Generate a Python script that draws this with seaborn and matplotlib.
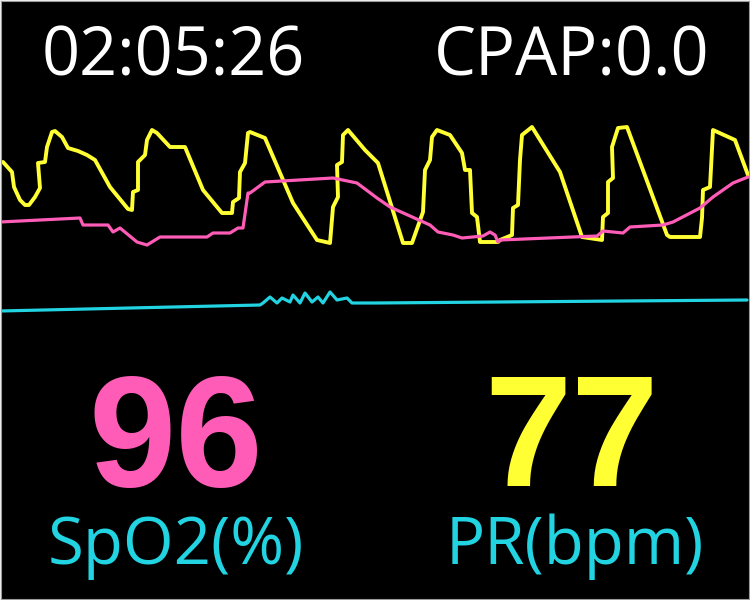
import matplotlib
matplotlib.use("Agg")
import matplotlib.pyplot as plt
import seaborn as sns
import pandas as pd

# ---- data (trace samples) ----
pleth_x = [3, 12, 14, 20, 25, 29, 35, 40, 38, 45, 47, 52, 55, 62, 68, 78, 87, 95, 110, 128, 132, 133, 138, 138,
           145, 147, 152, 157, 170, 185, 203, 222, 232, 233, 239, 240, 245, 248,
           250, 265, 293, 317, 330, 333, 338, 337, 342, 343, 348, 365, 378, 403, 412, 423, 425, 430, 432, 437,
           450, 462, 465, 470, 472, 477, 480, 498,
           500, 512, 513, 518, 520, 522, 532, 560, 582, 602, 603, 608, 608, 613, 612, 618, 627, 667, 670, 700,
           702, 703, 710, 713, 735, 748]
pleth_y = [162, 172, 187, 200, 205, 205, 197, 188, 163, 162, 147, 132, 131, 137, 148, 151, 155, 160, 187, 209, 210, 192, 190, 162,
           155, 140, 130, 133, 147, 147, 190, 213, 213, 202, 198, 172, 163, 133,
           132, 138, 203, 240, 243, 207, 197, 165, 162, 135, 130, 150, 163, 243, 243, 212, 170, 160, 137, 130,
           135, 153, 170, 170, 213, 217, 242, 242,
           240, 235, 208, 205, 160, 135, 127, 172, 237, 240, 217, 213, 182, 178, 147, 128, 127, 235, 237, 237,
           218, 190, 187, 130, 140, 175]

spo2_x = [0, 80, 83, 108, 113, 120, 137, 147, 160, 207, 213, 230, 238, 243, 248,
          250, 265, 333, 357, 377, 390, 430, 438, 453, 462, 483, 490, 495, 498,
          500, 597, 603, 623, 630, 663, 673, 700, 713, 733, 748]
spo2_y = [222, 218, 225, 225, 232, 228, 242, 245, 237, 237, 233, 233, 228, 228, 193,
          193, 182, 178, 183, 198, 207, 225, 232, 235, 238, 236, 232, 235, 242,
          240, 236, 231, 233, 227, 225, 222, 208, 197, 183, 177]

resp_x = [0, 260, 263, 270, 277, 282, 290, 293, 300, 305, 312, 318, 323, 330, 337, 347, 352, 375, 747]
resp_y = [311, 305, 303, 297, 303, 298, 302, 295, 303, 293, 302, 297, 303, 292, 300, 298, 303, 303, 300]

time_label = "02:05:26"
cpap_label = "CPAP:0.0"
spo2_value = "96"
pr_value = "77"
spo2_label = "SpO2(%)"
pr_label = "PR(bpm)"

YELLOW = "#FFFF33"
PINK = "#FF5CB8"
CYAN = "#22D3E2"

sns.set_theme(style="dark")
plt.rcParams['font.family'] = ['Open Sans', 'DejaVu Sans']

fig = plt.figure(figsize=(7.5, 6), dpi=100, facecolor="#f0f0f0")
ax = fig.add_axes([1 / 750, 1 / 600, 748 / 750, 598 / 600])
ax.set_facecolor("black")

pleth = pd.DataFrame({"x": pleth_x, "y": pleth_y})
spo2 = pd.DataFrame({"x": spo2_x, "y": spo2_y})
resp = pd.DataFrame({"x": resp_x, "y": resp_y})

sns.lineplot(data=pleth, x="x", y="y", sort=False, estimator=None, color=YELLOW, lw=2.8, ax=ax)
sns.lineplot(data=spo2, x="x", y="y", sort=False, estimator=None, color=PINK, lw=2.3, ax=ax)
sns.lineplot(data=resp, x="x", y="y", sort=False, estimator=None, color=CYAN, lw=2.3, ax=ax)

ax.set_xlim(1, 749)
ax.set_ylim(599, 1)
ax.set_xticks([])
ax.set_yticks([])
ax.set_xlabel("")
ax.set_ylabel("")
ax.grid(False)
for s in ax.spines.values():
    s.set_visible(True)
    s.set_color("#9a9a9a")
    s.set_linewidth(0.8)

ax.text(173, 75, time_label, color="white", fontsize=48, ha="center", va="baseline")
ax.text(572, 75, cpap_label, color="white", fontsize=48, ha="center", va="baseline")
ax.text(176, 486, spo2_value, color=PINK, fontsize=113, fontweight="bold",
        family=["Liberation Sans", "DejaVu Sans"], ha="center", va="baseline")
ax.text(572, 486, pr_value, color=YELLOW, fontsize=113, fontweight="bold",
        family=["Liberation Sans", "DejaVu Sans"], ha="center", va="baseline")
ax.text(176, 564, spo2_label, color=CYAN, fontsize=47, ha="center", va="baseline")
ax.text(575, 564, pr_label, color=CYAN, fontsize=47, ha="center", va="baseline")

fig.savefig("out.png", dpi=100, facecolor=fig.get_facecolor())
